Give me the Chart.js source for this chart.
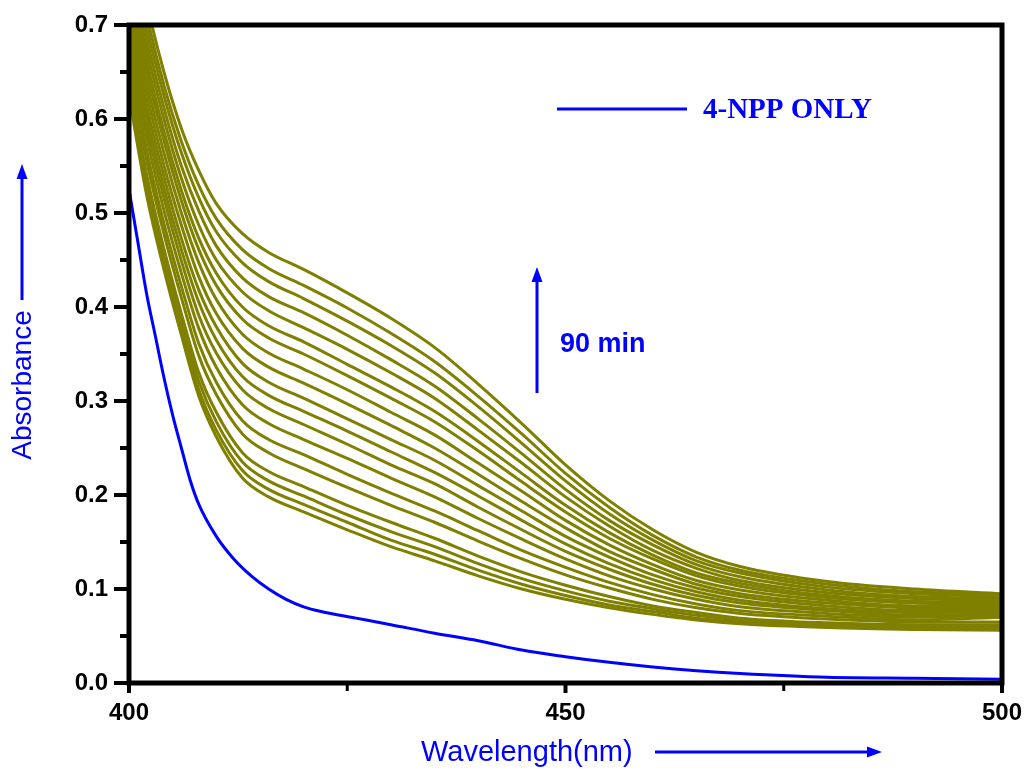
<!DOCTYPE html>
<html>
<head>
<meta charset="utf-8">
<script src="https://cdn.jsdelivr.net/npm/chart.js@4.4.1/dist/chart.umd.min.js"></script>
<style>
  html, body { margin: 0; padding: 0; overflow: hidden; background: #fff; }
  #wrap { position: absolute; left: 0; top: 0; width: 1027px; height: 769px; }
</style>
</head>
<body>
<div id="wrap"><canvas id="uv-chart"></canvas></div>
<script>
// wavelengths (nm) the olive spectra were read at
const wavelengths = [400, 402, 404, 406, 408, 410, 413, 416, 420, 425, 430, 435, 440, 445, 450, 455, 460, 465, 470, 480, 490, 500];

// absorbance, one spectrum every 5 min (0 -> 90 min)
const min0  = [0.625, 0.520, 0.440, 0.370, 0.305, 0.262, 0.218, 0.198, 0.182, 0.163, 0.145, 0.130, 0.114, 0.100, 0.089, 0.080, 0.073, 0.067, 0.063, 0.059, 0.057, 0.056];
const min5  = [0.631, 0.526, 0.446, 0.377, 0.312, 0.269, 0.226, 0.206, 0.190, 0.171, 0.152, 0.137, 0.120, 0.105, 0.093, 0.083, 0.076, 0.069, 0.065, 0.060, 0.058, 0.058];
const min10 = [0.638, 0.533, 0.454, 0.384, 0.321, 0.278, 0.235, 0.215, 0.199, 0.179, 0.161, 0.145, 0.127, 0.111, 0.098, 0.087, 0.079, 0.072, 0.067, 0.062, 0.060, 0.060];
const min15 = [0.645, 0.542, 0.462, 0.393, 0.330, 0.288, 0.245, 0.225, 0.209, 0.189, 0.171, 0.154, 0.135, 0.118, 0.104, 0.092, 0.082, 0.075, 0.069, 0.064, 0.062, 0.062];
const min20 = [0.660, 0.557, 0.478, 0.410, 0.348, 0.307, 0.265, 0.245, 0.228, 0.208, 0.189, 0.171, 0.151, 0.132, 0.115, 0.101, 0.089, 0.080, 0.074, 0.068, 0.065, 0.065];
const min25 = [0.671, 0.568, 0.489, 0.422, 0.361, 0.320, 0.279, 0.259, 0.243, 0.222, 0.202, 0.183, 0.162, 0.141, 0.123, 0.107, 0.094, 0.084, 0.077, 0.071, 0.067, 0.070];
const min30 = [0.684, 0.582, 0.503, 0.436, 0.377, 0.336, 0.296, 0.276, 0.259, 0.239, 0.218, 0.198, 0.175, 0.153, 0.132, 0.114, 0.100, 0.089, 0.081, 0.074, 0.070, 0.072];
const min35 = [0.695, 0.594, 0.516, 0.449, 0.391, 0.351, 0.312, 0.292, 0.275, 0.254, 0.232, 0.212, 0.187, 0.163, 0.140, 0.121, 0.105, 0.093, 0.085, 0.077, 0.072, 0.074];
const min40 = [0.706, 0.605, 0.527, 0.461, 0.405, 0.365, 0.326, 0.306, 0.289, 0.268, 0.246, 0.224, 0.199, 0.173, 0.148, 0.127, 0.110, 0.097, 0.088, 0.079, 0.075, 0.076];
const min45 = [0.717, 0.616, 0.539, 0.473, 0.418, 0.379, 0.340, 0.320, 0.303, 0.281, 0.259, 0.237, 0.210, 0.183, 0.156, 0.134, 0.115, 0.101, 0.092, 0.082, 0.077, 0.078];
const min50 = [0.728, 0.629, 0.551, 0.487, 0.432, 0.393, 0.356, 0.336, 0.319, 0.297, 0.274, 0.250, 0.222, 0.193, 0.165, 0.140, 0.121, 0.105, 0.095, 0.085, 0.080, 0.080];
const min55 = [0.740, 0.641, 0.564, 0.500, 0.447, 0.408, 0.371, 0.351, 0.334, 0.312, 0.288, 0.264, 0.234, 0.204, 0.173, 0.147, 0.126, 0.109, 0.099, 0.088, 0.082, 0.082];
const min60 = [0.752, 0.653, 0.577, 0.513, 0.461, 0.423, 0.387, 0.367, 0.350, 0.327, 0.303, 0.278, 0.247, 0.214, 0.182, 0.154, 0.132, 0.114, 0.103, 0.091, 0.085, 0.084];
const min65 = [0.762, 0.664, 0.587, 0.524, 0.473, 0.436, 0.400, 0.380, 0.363, 0.339, 0.315, 0.289, 0.257, 0.223, 0.189, 0.160, 0.136, 0.117, 0.106, 0.093, 0.087, 0.086];
const min70 = [0.773, 0.676, 0.600, 0.537, 0.487, 0.450, 0.416, 0.396, 0.378, 0.355, 0.330, 0.303, 0.269, 0.234, 0.198, 0.167, 0.141, 0.122, 0.109, 0.096, 0.090, 0.088];
const min75 = [0.785, 0.688, 0.612, 0.550, 0.502, 0.465, 0.431, 0.411, 0.394, 0.370, 0.344, 0.316, 0.281, 0.244, 0.206, 0.173, 0.147, 0.126, 0.113, 0.099, 0.092, 0.090];
const min80 = [0.797, 0.700, 0.625, 0.564, 0.516, 0.480, 0.447, 0.427, 0.409, 0.385, 0.359, 0.330, 0.294, 0.255, 0.215, 0.180, 0.152, 0.130, 0.117, 0.102, 0.095, 0.092];
const min85 = [0.807, 0.712, 0.636, 0.576, 0.529, 0.494, 0.461, 0.441, 0.423, 0.399, 0.372, 0.342, 0.305, 0.265, 0.223, 0.187, 0.157, 0.134, 0.120, 0.105, 0.097, 0.094];
const min90 = [0.820, 0.725, 0.650, 0.590, 0.545, 0.510, 0.478, 0.458, 0.440, 0.415, 0.388, 0.357, 0.318, 0.276, 0.232, 0.194, 0.163, 0.139, 0.124, 0.108, 0.100, 0.095];

const spectra = [min0, min5, min10, min15, min20, min25, min30, min35, min40, min45,
                 min50, min55, min60, min65, min70, min75, min80, min85, min90];
const spectraLabels = ["0 min", "5 min", "10 min", "15 min", "20 min", "25 min", "30 min", "35 min", "40 min", "45 min",
                       "50 min", "55 min", "60 min", "65 min", "70 min", "75 min", "80 min", "85 min", "90 min"];

// 4-NPP only (blue)
const nppWavelengths = [400, 401, 402, 403, 404, 405, 406, 407, 408, 410, 412, 414, 416, 418, 420, 422, 426, 430, 435, 440, 445, 450, 455, 460, 465, 470, 480, 490, 500];
const nppAbs = [0.525, 0.470, 0.415, 0.370, 0.325, 0.285, 0.250, 0.216, 0.190, 0.156, 0.132, 0.114, 0.100, 0.089, 0.081, 0.076, 0.069, 0.062, 0.053, 0.045, 0.035, 0.028, 0.022, 0.017, 0.013, 0.010, 0.006, 0.005, 0.004];

// tick positions
const yMajor = [0, 0.1, 0.2, 0.3, 0.4, 0.5, 0.6, 0.7];
const yMinor = [0.05, 0.15, 0.25, 0.35, 0.45, 0.55, 0.65];
const xMajor = [400, 450, 500];
const xMinor = [425, 475];

const OLIVE = "#808000";
const BLUE = "#0000ff";

const datasets = [
  {
    label: "4-NPP ONLY",
    data: nppWavelengths.map((w, i) => ({ x: w, y: nppAbs[i] })),
    borderColor: BLUE,
    borderWidth: 3,
  },
].concat(
  spectra.map((s, k) => ({
    label: spectraLabels[k],
    data: wavelengths.map((w, i) => ({ x: w, y: s[i] })),
    borderColor: OLIVE,
    borderWidth: 3,
  }))
);

function arrow(ctx, x1, y1, x2, y2) {
  const a = Math.atan2(y2 - y1, x2 - x1);
  ctx.beginPath();
  ctx.moveTo(x1, y1);
  ctx.lineTo(x2 - 10 * Math.cos(a), y2 - 10 * Math.sin(a));
  ctx.stroke();
  ctx.save();
  ctx.translate(x2, y2);
  ctx.rotate(a);
  ctx.beginPath();
  ctx.moveTo(0, 0);
  ctx.lineTo(-15, -5.5);
  ctx.lineTo(-15, 5.5);
  ctx.closePath();
  ctx.fill();
  ctx.restore();
}

// keep the plot box where the original has it
function noScalePadding(s) {
  s.paddingTop = 0;
  s.paddingBottom = 0;
  s.paddingLeft = 0;
  s.paddingRight = 0;
}

// frame, ticks and annotations
const decor = {
  id: "decor",
  afterDatasetsDraw(chart) {
    const ctx = chart.ctx;
    const xs = chart.scales.x, ys = chart.scales.y;
    const L = xs.getPixelForValue(400), R = xs.getPixelForValue(500);
    const T = ys.getPixelForValue(0.7), B = ys.getPixelForValue(0);
    ctx.save();
    ctx.strokeStyle = "#000";
    ctx.lineWidth = 5;
    ctx.strokeRect(L, T, R - L, B - T);

    ctx.lineWidth = 4;
    yMajor.forEach((v) => {
      const p = ys.getPixelForValue(v);
      ctx.beginPath(); ctx.moveTo(L, p); ctx.lineTo(L - 15, p); ctx.stroke();
    });
    yMinor.forEach((v) => {
      const p = ys.getPixelForValue(v);
      ctx.beginPath(); ctx.moveTo(L, p); ctx.lineTo(L - 9, p); ctx.stroke();
    });
    xMajor.forEach((v) => {
      const p = xs.getPixelForValue(v);
      ctx.beginPath(); ctx.moveTo(p, B); ctx.lineTo(p, B + 10); ctx.stroke();
    });
    ctx.lineWidth = 3;
    xMinor.forEach((v) => {
      const p = xs.getPixelForValue(v);
      ctx.beginPath(); ctx.moveTo(p, B); ctx.lineTo(p, B + 8); ctx.stroke();
    });
    ctx.restore();
  },
  afterDraw(chart) {
    const ctx = chart.ctx;
    ctx.save();
    ctx.fillStyle = BLUE;
    ctx.strokeStyle = BLUE;
    ctx.lineWidth = 3;

    // legend
    ctx.beginPath(); ctx.moveTo(557, 109); ctx.lineTo(687, 109); ctx.stroke();
    ctx.font = "bold 29px 'Liberation Serif', 'Times New Roman', serif";
    ctx.textAlign = "left";
    ctx.textBaseline = "alphabetic";
    ctx.fillText("4-NPP ONLY", 703, 118);

    // time arrow
    arrow(ctx, 537, 393, 537, 267);
    ctx.font = "bold 27px 'Liberation Sans', Arial, sans-serif";
    ctx.textBaseline = "middle";
    ctx.fillText("90 min", 560, 345);

    // x title
    ctx.font = "29px 'Liberation Sans', Arial, sans-serif";
    ctx.fillText("Wavelength(nm)", 421, 753);
    arrow(ctx, 655, 752, 882, 752);

    // y title
    ctx.save();
    ctx.translate(23, 385);
    ctx.rotate(-Math.PI / 2);
    ctx.textAlign = "center";
    ctx.font = "28px 'Liberation Sans', Arial, sans-serif";
    ctx.fillText("Absorbance", 0, 0);
    ctx.restore();
    arrow(ctx, 22, 300, 22, 164);
    ctx.restore();
  },
};

new Chart(document.getElementById("uv-chart"), {
  type: "line",
  data: { datasets },
  options: {
    responsive: true,
    maintainAspectRatio: false,
    animation: false,
    layout: { padding: { top: 25, right: 25, left: 0, bottom: 0 } },
    elements: {
      point: { radius: 0 },
      line: { cubicInterpolationMode: "monotone" },
    },
    plugins: {
      legend: { display: false },
      tooltip: { enabled: false },
    },
    scales: {
      x: {
        type: "linear",
        min: 400,
        max: 500,
        afterFit: (s) => { s.height = 86; noScalePadding(s); },
        grid: { display: false, drawTicks: false },
        border: { display: false },
        ticks: {
          stepSize: 50,
          padding: 16,
          color: "#000",
          font: { family: "'Liberation Sans', Arial, sans-serif", weight: "bold", size: 24 },
        },
      },
      y: {
        min: 0,
        max: 0.7,
        afterFit: (s) => { s.width = 129; noScalePadding(s); },
        grid: { display: false, drawTicks: false },
        border: { display: false },
        ticks: {
          stepSize: 0.1,
          padding: 21,
          color: "#000",
          font: { family: "'Liberation Sans', Arial, sans-serif", weight: "bold", size: 24 },
          callback: (v) => v.toFixed(1),
        },
      },
    },
  },
  plugins: [decor],
});
</script>
</body>
</html>
